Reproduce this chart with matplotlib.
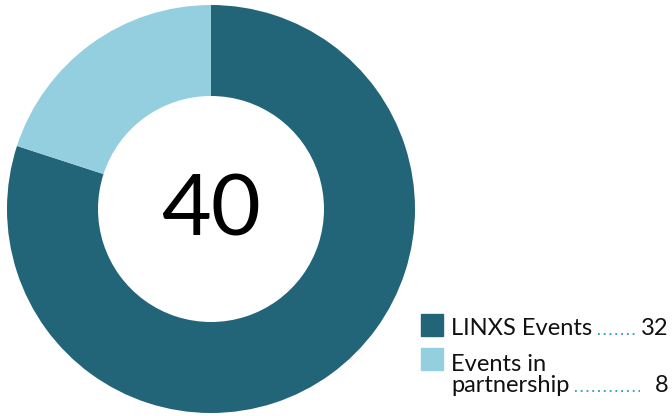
import matplotlib
matplotlib.use("Agg")
import matplotlib.pyplot as plt
from matplotlib.lines import Line2D

labels = [["LINXS Events"], ["Events in", "partnership"]]
values = [32, 8]
colors = ["#226578", "#93cfdf"]
total = sum(values)

W, H = 672, 416
fig = plt.figure(figsize=(W / 100, H / 100), dpi=100)


def fx(x):
    return x / W


def fy(y):
    return 1 - y / H


# donut: centre (211, 209) px, outer radius 204, inner 113
R, r = 204, 113
ax = fig.add_axes([fx(211 - R), fy(209 + R), 2 * R / W, 2 * R / H])
ax.pie(values, colors=colors, startangle=90, counterclock=False, radius=1,
       wedgeprops=dict(width=1 - r / R, linewidth=0))
ax.set_xlim(-1, 1)
ax.set_ylim(-1, 1)
ax.set_aspect("equal")
ax.axis("off")

fig.text(fx(211), fy(212), str(total), fontsize=62, family="Lato",
         ha="center", va="center", color="black")

# legend
font = dict(family="Lato", fontsize=17, color="#111111")
renderer = fig.canvas.get_renderer()
rows = [(314, 335, 636), (348, 392, 640)]
for (ysq, ybase, d1), lab, val, c in zip(rows, labels, values, colors):
    fig.patches.append(plt.Rectangle((fx(421), fy(ysq + 22)), 22 / W, 22 / H,
                                     transform=fig.transFigure, color=c))
    for i, line in enumerate(reversed(lab)):
        t = fig.text(fx(451), fy(ybase - 21 * i), line, va="baseline",
                     ha="left", **font)
        if i == 0:
            end = t.get_window_extent(renderer).x1
    d0 = end + 6
    fig.add_artist(Line2D([fx(d0), fx(d1)], [fy(ybase - 1), fy(ybase - 1)],
                          transform=fig.transFigure, color="#2b9ab5",
                          linestyle=(0, (1, 2.2)), linewidth=1.3))
    fig.text(fx(668), fy(ybase), str(val), va="baseline", ha="right", **font)

fig.savefig("out.png", dpi=100)
